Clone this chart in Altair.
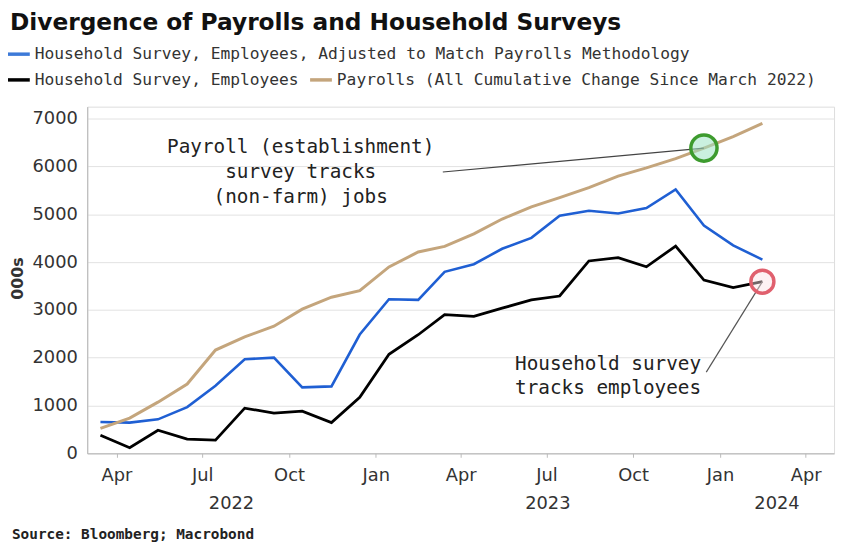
import altair as alt
import pandas as pd

# ---------------- data ----------------
months = pd.date_range("2022-03-01", periods=24, freq="MS") + pd.Timedelta(days=14)

household_adj = [656, 642, 711, 967, 1415, 1967, 2002, 1380, 1400, 2484, 3223, 3210,
                 3796, 3954, 4278, 4506, 4969, 5072, 5017, 5128, 5520, 4762, 4348, 4051]
household = [379, 118, 483, 297, 276, 945, 842, 883, 642, 1173, 2070, 2480,
             2900, 2865, 3035, 3210, 3290, 4023, 4093, 3900, 4335, 3623, 3464, 3590]
payrolls = [520, 738, 1070, 1449, 2160, 2436, 2657, 3016, 3265, 3402, 3899, 4210,
            4327, 4589, 4900, 5155, 5348, 5555, 5797, 5969, 6163, 6384, 6625, 6900]

series_names = [
    "Household Survey, Employees, Adjusted to Match Payrolls Methodology",
    "Household Survey, Employees",
    "Payrolls (All Cumulative Change Since March 2022)",
]
series_values = [household_adj, household, payrolls]
series_colors = ["#1f5fd3", "#000000", "#c4a57c"]
legend_colors = ["#3d7ad8", "#000000", "#c4a57c"]
series_widths = [2.6, 3.0, 2.2]

year_labels = ["2022", "2023", "2024"]
title_text = "Divergence of Payrolls and Household Surveys"
source_text = "Source: Bloomberg; Macrobond"
payroll_note = "Payroll (establishment)\nsurvey tracks\n(non-farm) jobs"
household_note = "Household survey\ntracks employees"

# ---------------- tables ----------------
df = pd.concat(
    [pd.DataFrame({"date": months, "value": vals, "series": name})
     for name, vals in zip(series_names, series_values)],
    ignore_index=True,
)

x_start = pd.Timestamp("2022-03-01")
x_end = pd.Timestamp("2024-05-01")
year_pos = []
for y in year_labels:
    a = max(pd.Timestamp(f"{y}-01-01"), x_start)
    b = min(pd.Timestamp(f"{int(y) + 1}-01-01"), x_end)
    year_pos.append(a + (b - a) / 2)
year_df = pd.DataFrame({"date": year_pos, "year": year_labels})

tick_dates = pd.date_range("2022-04-01", "2024-04-01", freq="3MS")
tick_values = [alt.DateTime(year=d.year, month=d.month, date=1) for d in tick_dates]

pay_pt = df[(df.series == series_names[2]) & (df.date == months[21])]
hh_pt = df[(df.series == series_names[1]) & (df.date == months[23])]

W, H = 754, 350
SANS = "DejaVu Sans"
MONO = "DejaVu Sans Mono"

x_scale = alt.Scale(domain=[alt.DateTime(year=2022, month=3, date=1),
                            alt.DateTime(year=2024, month=5, date=1)])
y_scale = alt.Scale(domain=[0, 7250], nice=False)

x_axis = alt.Axis(values=tick_values, format="%b", title=None, grid=False,
                  labelFontSize=18, labelFont=SANS, labelColor="#333",
                  tickSize=4, tickColor="#bbbbbb", labelPadding=9,
                  domainColor="#b5b5b5", labelFlush=False)
y_axis = alt.Axis(values=[0, 1000, 2000, 3000, 4000, 5000, 6000, 7000], format="d",
                  title="000s", titleFontSize=16, titleFont=SANS, titleFontWeight="bold",
                  titleColor="#333", titleX=-70, titleY=173, titleAngle=-90,
                  titleAlign="center", titleBaseline="middle",
                  labelFontSize=18, labelFont=SANS, labelColor="#333",
                  ticks=False, labelPadding=10, domainColor="#b5b5b5",
                  gridColor="#e2e2e2", gridWidth=1)

lines = alt.Chart(df).mark_line().encode(
    x=alt.X("date:T", scale=x_scale, axis=x_axis),
    y=alt.Y("value:Q", scale=y_scale, axis=y_axis),
    color=alt.Color("series:N", scale=alt.Scale(domain=series_names, range=series_colors), legend=None),
    strokeWidth=alt.StrokeWidth("series:N", scale=alt.Scale(domain=series_names, range=series_widths), legend=None),
)

years = alt.Chart(year_df).mark_text(fontSize=18, font=SANS, color="#333", baseline="middle").encode(
    x=alt.X("date:T", scale=x_scale), y=alt.value(401), text="year:N")

one = pd.DataFrame({"k": [0]})

pay_leader = alt.Chart(pay_pt).mark_rule(color="#444", strokeWidth=1.2).encode(
    x=alt.X("date:T", scale=x_scale), y=alt.Y("value:Q", scale=y_scale),
    x2=alt.value(359), y2=alt.value(66))
hh_leader = alt.Chart(hh_pt).mark_rule(color="#555", strokeWidth=1.2).encode(
    x=alt.X("date:T", scale=x_scale), y=alt.Y("value:Q", scale=y_scale),
    x2=alt.value(625), y2=alt.value(268))

pay_circle = alt.Chart(pay_pt).mark_point(shape="circle", filled=True, fill="#9fe3c4", fillOpacity=0.55,
                                          stroke="#3d9b2e", strokeWidth=3.5, size=700).encode(
    x=alt.X("date:T", scale=x_scale), y=alt.Y("value:Q", scale=y_scale))
hh_circle = alt.Chart(hh_pt).mark_point(shape="circle", filled=True, fill="#fbe3e6", fillOpacity=0.45,
                                        stroke="#e0606e", strokeWidth=3.5, size=540).encode(
    x=alt.X("date:T", scale=x_scale), y=alt.Y("value:Q", scale=y_scale))

pay_text = alt.Chart(pd.DataFrame({"t": [payroll_note]})).mark_text(
    align="center", baseline="alphabetic", lineBreak="\n", lineHeight=25,
    fontSize=19.5, font=MONO, color="#222").encode(x=alt.value(215.5), y=alt.value(47), text="t:N")
hh_text = alt.Chart(pd.DataFrame({"t": [household_note]})).mark_text(
    align="left", baseline="alphabetic", lineBreak="\n", lineHeight=24,
    fontSize=19.5, font=MONO, color="#222").encode(x=alt.value(432), y=alt.value(266), text="t:N")

title = alt.Chart(pd.DataFrame({"t": [title_text]})).mark_text(
    align="left", baseline="alphabetic", fontSize=23.5, font=SANS, fontWeight="bold", color="#111").encode(
    x=alt.value(-78), y=alt.value(-77.5), text="t:N")
source = alt.Chart(pd.DataFrame({"t": [source_text]})).mark_text(
    align="left", baseline="middle", fontSize=14.5, font=MONO, fontWeight="bold", color="#222").encode(
    x=alt.value(-76), y=alt.value(433), text="t:N")

# legend pieces
leg_layers = []
leg_spots = [(-80, -53), (-80, -27), (225, -27)]
for name, col, (lx, ly) in zip(series_names, legend_colors, leg_spots):
    leg_layers.append(alt.Chart(one).mark_rule(color=col, strokeWidth=3.5).encode(
        x=alt.value(lx), x2=alt.value(lx + 22), y=alt.value(ly)))
    leg_layers.append(alt.Chart(pd.DataFrame({"t": [name]})).mark_text(
        align="left", baseline="middle", fontSize=16.4, font=MONO, color="#333").encode(
        x=alt.value(lx + 27), y=alt.value(ly), text="t:N"))

chart = alt.layer(
    lines, years, pay_leader, hh_leader, pay_circle, hh_circle,
    pay_text, hh_text, title, source, *leg_layers
).properties(
    width=W, height=H,
    autosize=alt.AutoSizeParams(type="none"),
    padding={"left": 80, "top": 97, "right": 6, "bottom": 94},
).configure_view(stroke=None).configure(background="white")

chart.save("out.html", embed_options={"renderer": "svg", "actions": False})
